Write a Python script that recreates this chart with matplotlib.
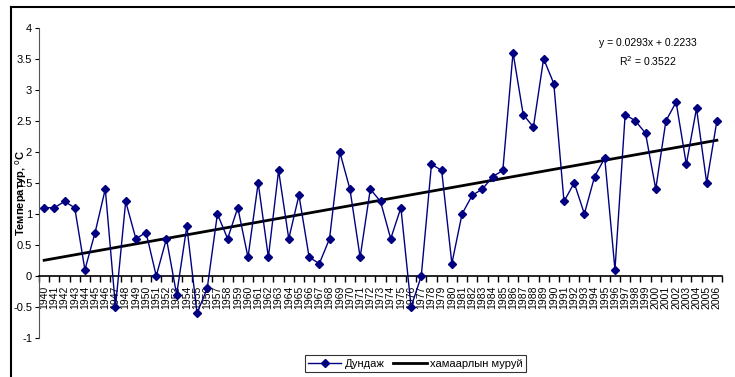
import numpy as np
import matplotlib.pyplot as plt
from matplotlib.lines import Line2D
from matplotlib.ticker import FuncFormatter, MultipleLocator

plt.rcParams['font.family'] = ['Liberation Sans', 'DejaVu Sans']
plt.rcParams['axes.unicode_minus'] = False

# Annual mean temperature anomaly
years = list(range(1940, 2007))
temps = [1.1, 1.1, 1.2, 1.1, 0.1, 0.7, 1.4, -0.5, 1.2, 0.6,
         0.7, 0.0, 0.6, -0.3, 0.8, -0.6, -0.2, 1.0, 0.6, 1.1,
         0.3, 1.5, 0.3, 1.7, 0.6, 1.3, 0.3, 0.2, 0.6, 2.0,
         1.4, 0.3, 1.4, 1.2, 0.6, 1.1, -0.5, 0.0, 1.8, 1.7,
         0.2, 1.0, 1.3, 1.4, 1.6, 1.7, 3.6, 2.6, 2.4, 3.5,
         3.1, 1.2, 1.5, 1.0, 1.6, 1.9, 0.1, 2.6, 2.5, 2.3,
         1.4, 2.5, 2.8, 1.8, 2.7, 1.5, 2.5]

# Linear trend as printed on the chart
slope = 0.0293
intercept = 0.2233
r2 = 0.3522

x = np.arange(1, len(years) + 1)
trend = slope * x + intercept

fig = plt.figure(figsize=(7.35, 3.77), dpi=100)
ax = fig.add_axes([0.0531, 0.1034, 0.9292, 0.8231])

ax.plot(x, temps, color='#000080', lw=1, marker='D', markersize=4.5,
        label='Дундаж', zorder=3)
ax.plot(x, trend, color='black', lw=2, label='хамаарлын муруй', zorder=2)

ax.set_xlim(0.5, len(years) + 0.5)
ax.set_ylim(-1, 4)

# axes look like Excel: left axis + category axis crossing at 0
for s in ['top', 'right']:
    ax.spines[s].set_visible(False)
ax.spines['bottom'].set_position(('data', 0))
ax.spines['bottom'].set_linewidth(1.2)
ax.spines['left'].set_color('#555555')

ax.set_xticks(x)
ax.set_xticklabels([str(y) for y in years], rotation=90, fontsize=7.5)
ax.set_xticks(np.arange(0.5, len(years) + 1, 1), minor=True)
ax.tick_params(axis='x', which='major', length=0, pad=7)
ax.tick_params(axis='x', which='minor', length=4, width=1, direction='out')

ax.yaxis.set_major_locator(MultipleLocator(0.5))
ax.yaxis.set_major_formatter(FuncFormatter(lambda v, p: '%g' % v))
ax.tick_params(axis='y', length=3, labelsize=8, pad=2)

fig.text(0.029, 0.49, 'Температур, $^{\\rm o}$C', rotation=90, fontsize=8,
         fontweight='bold', ha='center', va='center')

ax.text(0.882, 0.885, 'y = %.4fx + %.4f' % (slope, intercept), transform=fig.transFigure,
        ha='center', va='center', fontsize=7.5)
ax.text(0.882, 0.838, 'R$^2$ = %.4f' % r2, transform=fig.transFigure,
        ha='center', va='center', fontsize=7.5)

leg = fig.legend(loc='upper center', bbox_to_anchor=(0.565, 0.072), ncol=2,
                 fontsize=8, frameon=True, fancybox=False, edgecolor='black',
                 handlelength=3, handletextpad=0.3, columnspacing=0.8,
                 borderpad=0.3)
leg.get_frame().set_linewidth(0.8)

# outer chart border (left and top visible)
fig.add_artist(Line2D([11 / 735, 11 / 735], [0, 1 - 7 / 377], color='black', lw=1.5,
                      transform=fig.transFigure))
fig.add_artist(Line2D([11 / 735, 1], [1 - 7 / 377, 1 - 7 / 377], color='black', lw=1.5,
                      transform=fig.transFigure))

plt.savefig('out.png', dpi=100)
